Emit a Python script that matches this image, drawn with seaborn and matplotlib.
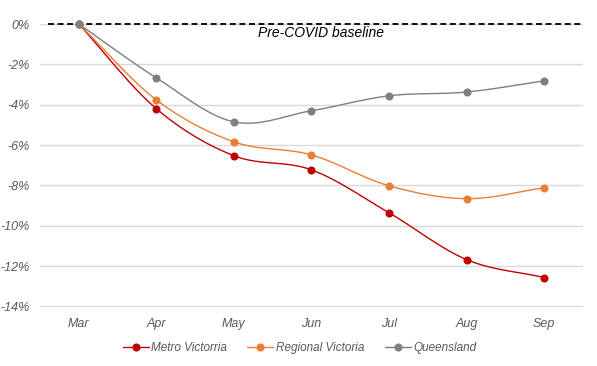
import matplotlib.pyplot as plt
import seaborn as sns
import numpy as np
import pandas as pd

months = ["Mar", "Apr", "May", "Jun", "Jul", "Aug", "Sep"]
metro = [0.0, -4.2, -6.53, -7.23, -9.36, -11.68, -12.57]
regional = [0.0, -3.76, -5.84, -6.49, -8.02, -8.66, -8.12]
queensland = [0.0, -2.67, -4.85, -4.30, -3.56, -3.37, -2.82]

series = {"Metro Victorria": metro, "Regional Victoria": regional, "Queensland": queensland}
colors = {"Metro Victorria": "#C00000", "Regional Victoria": "#ED7D31", "Queensland": "#7F7F7F"}


def smooth(y, n=20):
    # Catmull-Rom style smoothing, similar to spreadsheet "smoothed line"
    y = np.asarray(y, dtype=float)
    p = np.concatenate([[2 * y[0] - y[1]], y, [2 * y[-1] - y[-2]]])
    xs, ys = [], []
    for i in range(len(y) - 1):
        p0, p1, p2, p3 = p[i], p[i + 1], p[i + 2], p[i + 3]
        t = np.linspace(0, 1, n, endpoint=False)
        v = 0.5 * (2 * p1 + (-p0 + p2) * t + (2 * p0 - 5 * p1 + 4 * p2 - p3) * t ** 2
                   + (-p0 + 3 * p1 - 3 * p2 + p3) * t ** 3)
        xs.extend(i + t)
        ys.extend(v)
    xs.append(len(y) - 1)
    ys.append(y[-1])
    return np.array(xs), np.array(ys)


sns.set_style("white")
plt.rcParams["font.family"] = ["Liberation Sans", "DejaVu Sans"]

fig = plt.figure(figsize=(5.97, 3.66), dpi=100)
ax = fig.add_axes([0.067, 0.1612, 0.9095, 0.7732])

for name, vals in series.items():
    sx, sy = smooth(vals)
    sns.lineplot(x=sx, y=sy, ax=ax, color=colors[name], linewidth=1.0,
                 estimator=None, sort=False, legend=False)
for name, vals in series.items():
    ax.plot(range(len(months)), vals, linestyle="none", marker="o", markersize=4.8,
            color=colors[name], clip_on=False, zorder=4)

ax.set_xlim(-0.5, len(months) - 0.5)
ax.set_ylim(-14.03, 0)
ax.set_yticks(np.arange(-14, 1, 2))
ax.set_yticklabels([f"{v}%" for v in range(-14, 1, 2)])
ax.set_xticks(range(len(months)))
ax.set_xticklabels(months)
ax.grid(axis="y", color="#D9D9D9", linewidth=1)
ax.set_axisbelow(True)
for s in ax.spines.values():
    s.set_visible(False)
ax.tick_params(length=0, labelsize=9, labelcolor="#595959")
ax.tick_params(axis="x", pad=8)
ax.tick_params(axis="y", pad=7.5)
for lab in ax.get_xticklabels() + ax.get_yticklabels():
    lab.set_fontstyle("italic")

ax.axhline(0, xmin=0.014, xmax=1, color="black", linestyle=(0, (3.3, 2)),
           linewidth=1.3, clip_on=False, zorder=3)
ax.text(3.12, -0.45, "Pre-COVID baseline", ha="center", va="center",
        fontsize=10, fontstyle="italic", color="black")

handles = [plt.Line2D([], [], color=colors[n], marker="o", markersize=4.8, linewidth=1.0)
           for n in series]
leg = fig.legend(handles, list(series.keys()), loc="center", bbox_to_anchor=(0.502, 0.049),
                 ncol=3, frameon=False, fontsize=8.5, handlelength=2.2,
                 columnspacing=1.7, handletextpad=0.25)
for t in leg.get_texts():
    t.set_fontstyle("italic")
    t.set_color("#595959")

fig.savefig("out.png", dpi=100)
